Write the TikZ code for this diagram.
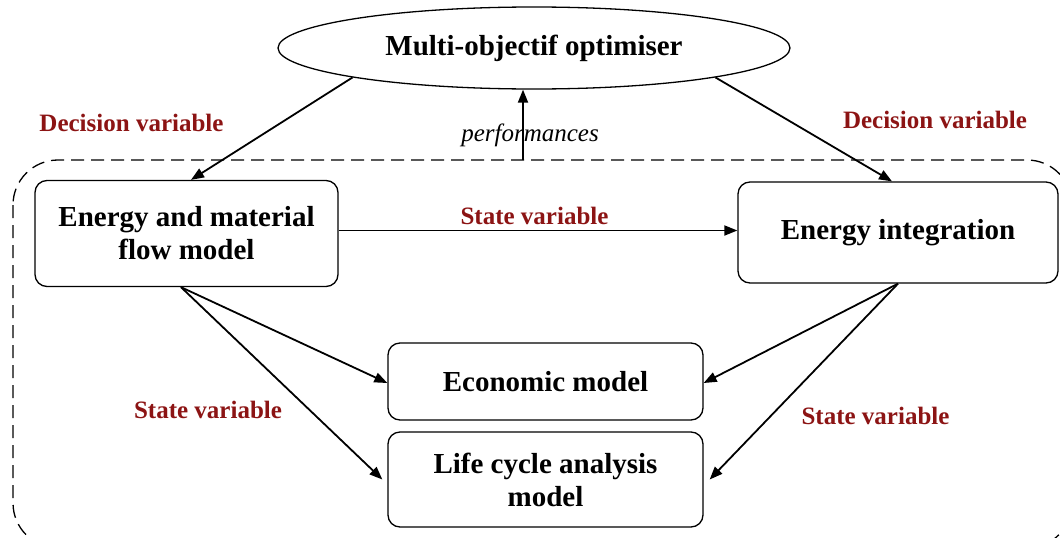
\documentclass[tikz,border=0pt]{standalone}
\usepackage{fontspec}
\setmainfont{Liberation Serif}
\usetikzlibrary{shapes.geometric,arrows.meta}
\definecolor{varred}{RGB}{140,20,20}
\begin{document}
\begin{tikzpicture}[x=1pt,y=-1pt,
  model/.style={draw, line width=1.3pt, rounded corners=12pt, inner sep=0pt,
    align=center, font=\fontsize{29}{33}\selectfont\bfseries},
  flow/.style={-{Triangle[length=13pt,width=10pt]}, line width=1.8pt},
  varlabel/.style={text=varred, inner sep=0pt,
    font=\fontsize{25}{30}\selectfont\bfseries}]
\useasboundingbox (0,0) rectangle (1060,538);

% system boundary (dashed), partly outside the page
\begin{scope}
  \clip (0,0) rectangle (1060,538);
  \draw[dash pattern=on 13pt off 7pt, line width=1.3pt, rounded corners=45pt]
    (13,160) rectangle (1072,548);
\end{scope}

% nodes
\node[draw, ellipse, line width=1.3pt, minimum width=512pt, minimum height=82pt,
  inner sep=0pt, font=\fontsize{29}{33}\selectfont\bfseries]
  (opt) at (534,48) {Multi-objectif optimiser};
\node[model, minimum width=303pt, minimum height=106pt] (flow) at (186.5,233.5)
  {Energy and material\\flow model};
\node[model, minimum width=320pt, minimum height=101pt] (integ) at (898,232.5)
  {Energy integration};
\node[model, minimum width=315pt, minimum height=77pt] (econ) at (545.5,381.5)
  {Economic model};
\node[model, minimum width=315pt, minimum height=95pt] (lca) at (545.5,479.5)
  {Life cycle analysis\\model};

% labels
\node[varlabel] (dvl) at (131.5,123) {Decision variable};
\node[varlabel] (dvr) at (935,120) {Decision variable};
\node[varlabel] (svt) at (534.5,216) {State variable};
\node[varlabel] (svl) at (208,410) {State variable};
\node[varlabel] (svr) at (875.5,416) {State variable};
\node[inner sep=0pt, font=\fontsize{25}{30}\selectfont\itshape] (perf) at (530,135)
  {performances};

% connectors
\coordinate (perfstart) at (523,160);
\draw[flow] (opt.south west) -- ([xshift=4.5pt]flow.north);
\draw[flow] (opt.south east) -- ([xshift=-6pt]integ.north);
\draw[flow] (perfstart) -- (opt.south -| perfstart);
\draw[flow] ([yshift=3pt]flow.east) -- ([yshift=3pt]flow.east -| integ.west);
\draw[flow] ([xshift=-5.5pt]flow.south) -- ([yshift=-1.5pt]econ.west);
\draw[flow] ([xshift=-5.5pt]flow.south) -- ([xshift=-5pt]lca.west);
\draw[flow] (integ.south) -- ([yshift=-1.5pt]econ.east);
\draw[flow] (integ.south) -- ([xshift=6pt]lca.east);
\end{tikzpicture}
\end{document}
